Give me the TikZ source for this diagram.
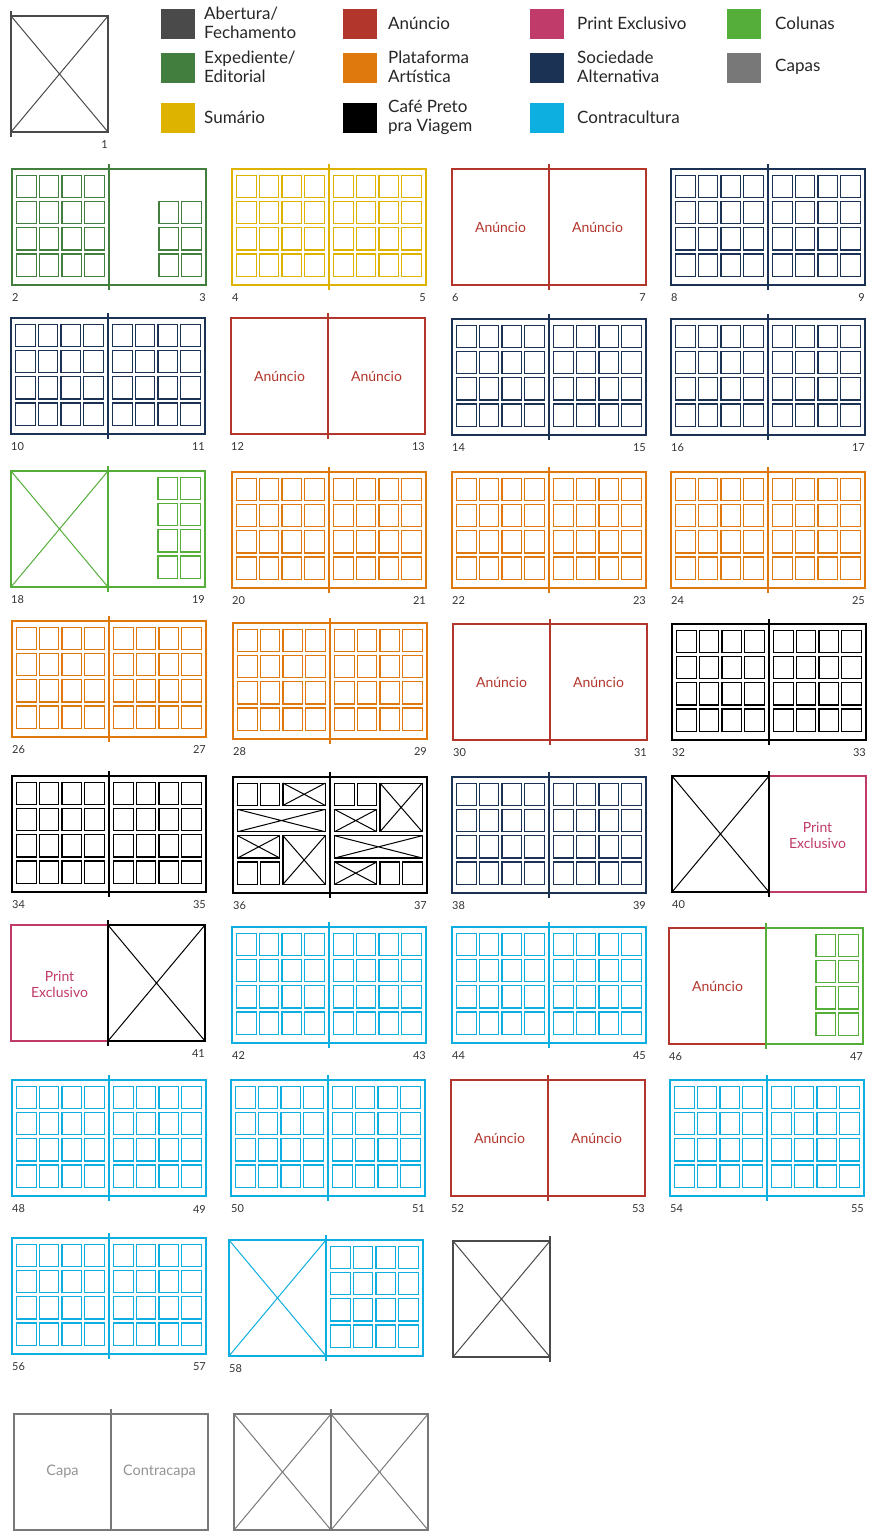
\documentclass[tikz,border=0pt]{standalone}
\usepackage{fontspec}
\setmainfont{Lato}

\definecolor{abertura}{HTML}{4A4A4A}
\definecolor{anuncio}{HTML}{B3362C}
\definecolor{printex}{HTML}{C03B69}
\definecolor{colunas}{HTML}{55AE3A}
\definecolor{editorial}{HTML}{427F3F}
\definecolor{plataforma}{HTML}{E0790D}
\definecolor{sociedade}{HTML}{1B3254}
\definecolor{capas}{HTML}{787878}
\definecolor{sumario}{HTML}{DDB300}
\definecolor{cafe}{HTML}{000000}
\definecolor{contra}{HTML}{0DAEE0}

\tikzset{
  pg/.style={line width=1.8pt},
  cell/.style={line width=1.2pt},
  diag/.style={line width=1pt},
  spine/.style={line width=2pt},
  num/.style={inner sep=0pt, text=black!80, font=\fontsize{11}{11}\selectfont},
  legtext/.style={inner sep=0pt, align=left, text=black!85, font=\fontsize{17}{19}\selectfont},
  adtext/.style={text=anuncio, font=\fontsize{14}{16}\selectfont},
  petext/.style={text=printex, align=center, font=\fontsize{14}{16}\selectfont},
  captext/.style={text=capas!80, font=\fontsize{14.5}{16}\selectfont}
}

% 单页: 边框, 网格, 栏, 叉
\newcommand{\pframe}[3]{\draw[pg,#3] (#1,#2) rectangle ++(97,116);}
\newcommand{\pgrid}[3]{\foreach \i in {0,...,3}{\foreach \j in {0,...,3}{
  \draw[cell,#3] ({#1+4.6+\i*22.7},{#2+6.1+\j*26.3}) rectangle ++(19.5,22.3);}}}
\newcommand{\pcols}[4]{\foreach \i in {2,3}{\foreach \j in {#4,...,3}{
  \draw[cell,#3] ({#1+4.6+\i*22.7},{#2+6.1+\j*26.3}) rectangle ++(19.5,22.3);}}}
\newcommand{\pcross}[3]{\draw[diag,#3] (#1,#2) -- ++(97,116) ({#1+97},#2) -- ++(-97,116);}
\newcommand{\spine}[3]{\draw[spine,#3] (#1,{#2-5}) -- (#1,{#2+121});}
\newcommand{\pnum}[4]{\node[num,anchor=#3] (n#4) at (#1,{#2+129}) {#4};}
\newcommand{\adlabel}[3]{\node[adtext] (ad#3) at ({#1+48.5},{#2+58}) {Anúncio};}
% 36-37 的格子
\newcommand{\bcell}[5]{\draw[cell,#5] ({#1+4.6+#3*22.7},{#2+6.1+#4*26.3}) rectangle ++(19.5,22.3);}
\newcommand{\xbox}[7]{\draw[cell,#7] ({#1+4.6+#3*22.7},{#2+6.1+#4*26.3}) coordinate (a)
  rectangle ({#1+4+#5*22.7+20.1},{#2+5.5+#6*26.3+22.9}) coordinate (b);
  \draw[diag,#7] (a) -- (b) (a -| b) -- (a |- b);}
% 跨页
\newcommand{\gridspread}[5]{\pframe{#1}{#2}{#3}\pframe{#1+97}{#2}{#3}
  \pgrid{#1}{#2}{#3}\pgrid{#1+97}{#2}{#3}\spine{#1+97}{#2}{#3}
  \pnum{#1}{#2}{west}{#4}\pnum{#1+194}{#2}{east}{#5}}
\newcommand{\adspread}[4]{\pframe{#1}{#2}{anuncio}\pframe{#1+97}{#2}{anuncio}
  \adlabel{#1}{#2}{#3}\adlabel{#1+97}{#2}{#4}\spine{#1+97}{#2}{anuncio}
  \pnum{#1}{#2}{west}{#3}\pnum{#1+194}{#2}{east}{#4}}
% 图例
\newcommand{\legitem}[6]{\fill[#3] (#1,#2) rectangle ++(34,30);
  \node[legtext,anchor=west] (#6) at (#4,{#2+14}) {#5};}

\begin{document}
\begin{tikzpicture}[x=1pt,y=-1pt]
    \useasboundingbox (0,0) rectangle (869,1531);

    % 第 1 页
    \pframe{11}{16}{abertura}
    \pcross{11}{16}{abertura}
    \spine{11}{16}{abertura}
    \pnum{108}{16}{east}{1}

    % 图例
    \legitem{161}{9}{abertura}{204}{Abertura/\\Fechamento}{lg1}
    \legitem{161}{53}{editorial}{204}{Expediente/\\Editorial}{lg2}
    \legitem{161}{103}{sumario}{204}{Sumário}{lg3}
    \legitem{343}{9}{anuncio}{388}{Anúncio}{lg4}
    \legitem{343}{53}{plataforma}{388}{Plataforma\\Artística}{lg5}
    \legitem{343}{103}{cafe}{388}{Café Preto\\pra Viagem}{lg6}
    \legitem{530}{9}{printex}{577}{Print Exclusivo}{lg7}
    \legitem{530}{53}{sociedade}{577}{Sociedade\\Alternativa}{lg8}
    \legitem{530}{103}{contra}{577}{Contracultura}{lg9}
    \legitem{727}{9}{colunas}{775}{Colunas}{lg10}
    \legitem{727}{53}{capas}{775}{Capas}{lg11}

    % 第一行
    \pframe{12}{169}{editorial}\pframe{109}{169}{editorial}
    \pgrid{12}{169}{editorial}\pcols{109}{169}{editorial}{1}
    \spine{109}{169}{editorial}
    \pnum{12}{169}{west}{2}\pnum{206}{169}{east}{3}
    \gridspread{232}{169}{sumario}{4}{5}
    \adspread{452}{169}{6}{7}
    \gridspread{671}{169}{sociedade}{8}{9}

    % 第二行
    \gridspread{11}{318}{sociedade}{10}{11}
    \adspread{231}{318}{12}{13}
    \gridspread{452}{319}{sociedade}{14}{15}
    \gridspread{671}{319}{sociedade}{16}{17}

    % 第三行
    \pframe{11}{471}{colunas}\pframe{108}{471}{colunas}
    \pcross{11}{471}{colunas}\pcols{108}{471}{colunas}{0}
    \spine{108}{471}{colunas}
    \pnum{11}{471}{west}{18}\pnum{205}{471}{east}{19}
    \gridspread{232}{472}{plataforma}{20}{21}
    \gridspread{452}{472}{plataforma}{22}{23}
    \gridspread{671}{472}{plataforma}{24}{25}

    % 第四行
    \gridspread{12}{621}{plataforma}{26}{27}
    \gridspread{233}{623}{plataforma}{28}{29}
    \adspread{453}{624}{30}{31}
    \gridspread{672}{624}{cafe}{32}{33}

    % 第五行
    \gridspread{12}{776}{cafe}{34}{35}
    % 36-37 混合版面
    \pframe{233}{777}{cafe}\pframe{330}{777}{cafe}
    \bcell{233}{777}{0}{0}{cafe}\bcell{233}{777}{1}{0}{cafe}
    \xbox{233}{777}{2}{0}{3}{0}{cafe}\xbox{233}{777}{0}{1}{3}{1}{cafe}
    \xbox{233}{777}{0}{2}{1}{2}{cafe}\xbox{233}{777}{2}{2}{3}{3}{cafe}
    \bcell{233}{777}{0}{3}{cafe}\bcell{233}{777}{1}{3}{cafe}
    \bcell{330}{777}{0}{0}{cafe}\bcell{330}{777}{1}{0}{cafe}
    \xbox{330}{777}{2}{0}{3}{1}{cafe}\xbox{330}{777}{0}{1}{1}{1}{cafe}
    \xbox{330}{777}{0}{2}{3}{2}{cafe}\xbox{330}{777}{0}{3}{1}{3}{cafe}
    \bcell{330}{777}{2}{3}{cafe}\bcell{330}{777}{3}{3}{cafe}
    \spine{330}{777}{cafe}
    \pnum{233}{777}{west}{36}\pnum{427}{777}{east}{37}
    \gridspread{452}{777}{sociedade}{38}{39}
    % 40 + Print Exclusivo
    \pframe{769}{776}{printex}
    \node[petext] (pe40) at (817.5,835) {Print\\Exclusivo};
    \pframe{672}{776}{cafe}\pcross{672}{776}{cafe}
    \spine{769}{776}{cafe}
    \pnum{672}{776}{west}{40}

    % 第六行
    \pframe{11}{925}{printex}
    \node[petext] (pe41) at (59.5,984) {Print\\Exclusivo};
    \pframe{108}{925}{cafe}\pcross{108}{925}{cafe}
    \spine{108}{925}{cafe}
    \pnum{205}{925}{east}{41}
    \gridspread{232}{927}{contra}{42}{43}
    \gridspread{452}{927}{contra}{44}{45}
    \pframe{669}{928}{anuncio}\adlabel{669}{928}{46}
    \pframe{766}{928}{colunas}\pcols{766}{928}{colunas}{0}
    \spine{766}{928}{colunas}
    \pnum{669}{928}{west}{46}\pnum{863}{928}{east}{47}

    % 第七行
    \gridspread{12}{1080}{contra}{48}{49}
    \gridspread{231}{1080}{contra}{50}{51}
    \adspread{451}{1080}{52}{53}
    \gridspread{670}{1080}{contra}{54}{55}

    % 第八行
    \gridspread{12}{1238}{contra}{56}{57}
    \pframe{229}{1240}{contra}\pframe{326}{1240}{contra}
    \pcross{229}{1240}{contra}\pgrid{326}{1240}{contra}
    \spine{326}{1240}{contra}
    \pnum{229}{1240}{west}{58}
    \pframe{453}{1241}{abertura}\pcross{453}{1241}{abertura}
    \spine{550}{1241}{abertura}

    % 封面
    \pframe{14}{1414}{capas}\pframe{111}{1414}{capas}
    \node[captext] (capa) at (62.5,1471) {Capa};
    \node[captext] (contracapa) at (159.5,1471) {Contracapa};
    \spine{111}{1414}{capas}
    \pframe{234}{1414}{capas}\pframe{331}{1414}{capas}
    \pcross{234}{1414}{capas}\pcross{331}{1414}{capas}
    \spine{331}{1414}{capas}

\end{tikzpicture}
\end{document}
